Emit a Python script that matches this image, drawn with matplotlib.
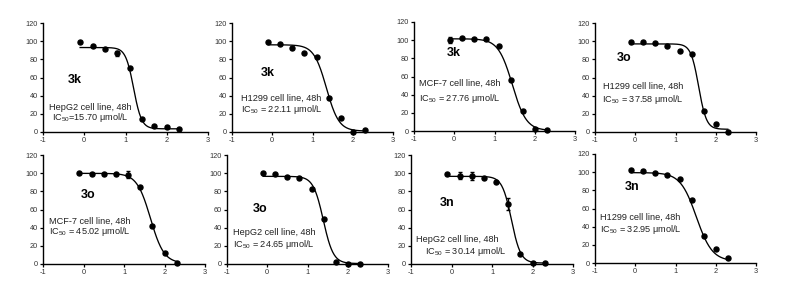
import numpy as np
import matplotlib
matplotlib.use('Agg')
import matplotlib.pyplot as plt

plt.rcParams['font.family'] = ['Liberation Sans', 'DejaVu Sans']
plt.rcParams['mathtext.fontset'] = 'custom'
plt.rcParams['mathtext.rm'] = 'Liberation Sans'
plt.rcParams['mathtext.default'] = 'regular'
plt.rcParams['axes.unicode_minus'] = False

# log concentration (same for every panel)
logc = [-0.1, 0.2, 0.5, 0.8, 1.1, 1.4, 1.7, 2.0, 2.3]

compounds = ['3k', '3k', '3k', '3o', '3o', '3o', '3n', '3n']
cells = ['HepG2', 'H1299', 'MCF-7', 'H1299', 'MCF-7', 'HepG2', 'HepG2', 'H1299']
ic50_text = ['IC$_{50}$=15.70 μmol/L', 'IC$_{50}$ = 22.11 μmol/L', 'IC$_{50}$ = 27.76 μmol/L',
             'IC$_{50}$ = 37.58 μmol/L', 'IC$_{50}$ = 45.02 μmol/L', 'IC$_{50}$ = 24.65 μmol/L',
             'IC$_{50}$ = 30.14 μmol/L', 'IC$_{50}$ = 32.95 μmol/L']

# % viability
viab = [
    [98.8, 94.3, 91.0, 86.6, 70.1, 14.3, 6.6, 5.5, 3.3],
    [98.8, 97.2, 92.8, 86.6, 82.2, 37.8, 15.1, 0.0, 2.5],
    [100.3, 102.2, 101.1, 101.4, 93.7, 55.6, 22.2, 2.2, 1.1],
    [99.4, 99.1, 98.3, 95.0, 89.2, 85.5, 23.1, 9.1, 0.3],
    [100.0, 98.9, 99.6, 99.2, 98.5, 85.2, 42.2, 11.9, 1.4],
    [100.0, 99.6, 95.6, 94.4, 83.0, 50.0, 2.6, 0.4, 0.4],
    [99.1, 97.2, 96.9, 94.3, 90.6, 66.1, 10.7, 1.1, 1.4],
    [102.6, 100.8, 99.2, 97.0, 93.0, 69.2, 29.2, 15.2, 5.2],
]
errs = [
    [0, 0, 0, 3, 0, 0, 0, 0, 0],
    [0, 0, 0, 0, 0, 0, 0, 0, 0],
    [3, 0, 0, 0, 0, 0, 0, 0, 0],
    [0, 0, 0, 0, 0, 0, 0, 0, 0],
    [0, 0, 0, 0, 4, 0, 0, 0, 0],
    [0, 0, 0, 0, 0, 0, 0, 0, 0],
    [0, 4, 4, 0, 0, 7, 0, 0, 0],
    [0, 0, 0, 0, 0, 0, 0, 0, 0],
]

# fitted 4PL parameters: top, bottom, log IC50, hill slope
tops = [93, 96, 101.5, 97, 99.8, 96.5, 96.5, 99.5]
bottoms = [3.5, 1, 0.5, 3, 0.8, 0.5, 1, 2]
log_ic50 = [1.196, 1.345, 1.443, 1.575, 1.653, 1.392, 1.479, 1.518]
hills = [4.5, 2.8, 2.5, 4.5, 2.6, 3.5, 3.8, 2.2]

# label positions (data coords)
cmp_xy = [(-0.39, 57), (-0.28, 65), (-0.18, 85.6), (-0.45, 81.5),
          (-0.06, 75.5), (-0.35, 61), (-0.28, 67.5), (-0.27, 83.7)]
txt_pos = [((0.14, 27.5), (0.14, 16.5), 'center'), ((-0.78, 37), (-0.78, 25), 'left'),
           ((0.14, 53), (0.14, 35.6), 'center'), ((0.19, 50.6), (0.19, 36.3), 'center'),
           ((0.16, 47.4), (0.16, 35.9), 'center'), ((0.17, 35.2), (0.17, 21.9), 'center'),
           ((-0.88, 27.5), (-0.65, 14.3), 'left'), ((-0.88, 50.8), (-0.88, 37.4), 'left')]

W, H = 787, 281
lefts = [43, 232, 414, 595, 43, 227, 411, 595]
widths = [165, 161, 161, 161, 162, 161, 162, 161]
bots = [132, 132, 131, 132, 264, 264, 264, 263]

fig = plt.figure(figsize=(W / 100, H / 100), dpi=100)

for i in range(8):
    ax = fig.add_axes([lefts[i] / W, (H - bots[i]) / H, widths[i] / W, 109 / H])
    x = np.array(logc)
    y = np.array(viab[i])
    ax.errorbar(x, y, yerr=errs[i], fmt='o', color='black', ms=3.6, elinewidth=1.0,
                capsize=1.6, capthick=1.0, clip_on=False, zorder=3)
    xs = np.linspace(logc[0], logc[-1], 200)
    ys = bottoms[i] + (tops[i] - bottoms[i]) / (1 + 10 ** ((xs - log_ic50[i]) * hills[i]))
    ax.plot(xs, ys, color='black', lw=0.95, clip_on=False)

    ax.set_xlim(-1, 3)
    ax.set_ylim(0, 120)
    ax.set_xticks([-1, 0, 1, 2, 3])
    ax.set_yticks(range(0, 121, 20))
    for s in ['top', 'right']:
        ax.spines[s].set_visible(False)
    for s in ['left', 'bottom']:
        ax.spines[s].set_linewidth(1.0)
    ax.tick_params(labelsize=5.3, length=2.2, width=0.9, pad=1.5, colors='black',
                   labelcolor='#333333')

    ax.text(cmp_xy[i][0], cmp_xy[i][1], compounds[i], fontsize=9, fontweight='bold',
            ha='left', va='center')
    p1, p2, ha = txt_pos[i]
    ax.text(p1[0], p1[1], cells[i] + ' cell line, 48h', fontsize=6.6, ha=ha, va='center',
            color='#222222')
    ax.text(p2[0], p2[1], ic50_text[i], fontsize=6.6, ha=ha, va='center', color='#222222')

fig.savefig('out.png', dpi=100)
